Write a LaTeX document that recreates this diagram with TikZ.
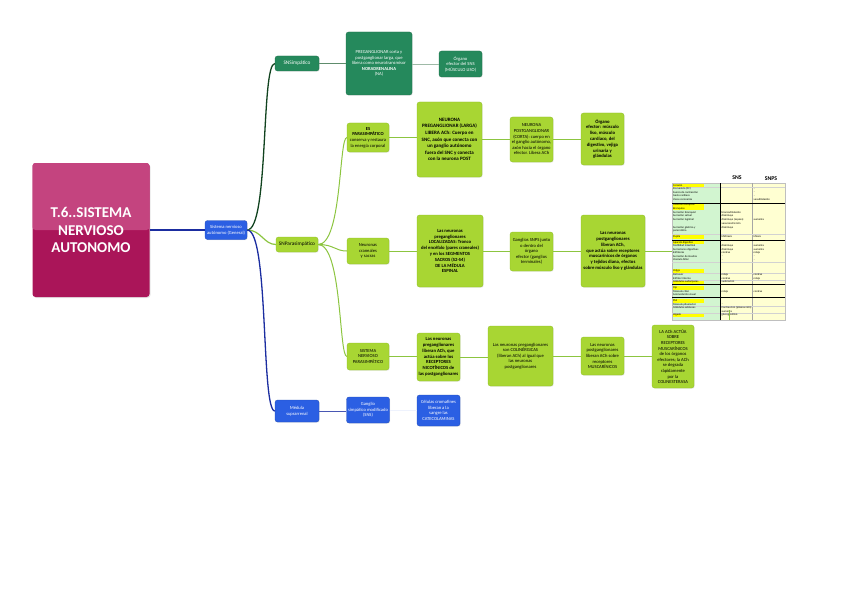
\documentclass[tikz,border=0pt]{standalone}
\usepackage{fontspec}
\setmainfont{Carlito}
\setsansfont{Carlito}
\usetikzlibrary{shadows}
\definecolor{pinkA}{HTML}{C4447F}
\definecolor{pinkB}{HTML}{AA1559}
\definecolor{blueN}{HTML}{2B5FE3}
\definecolor{blueL}{HTML}{1B2DA0}
\definecolor{dgreen}{HTML}{25895C}
\definecolor{dgreenL}{HTML}{11431F}
\definecolor{sgreenL}{HTML}{5E8C6C}
\definecolor{lgreen}{HTML}{A8D633}
\definecolor{lgreenD}{HTML}{8DBE22}
\definecolor{lgreenL}{HTML}{8CC540}
\definecolor{tgreen}{HTML}{D2F5D0}
\definecolor{tyellow}{HTML}{FFFFD2}
\definecolor{hyellow}{HTML}{FFFF00}
\begin{document}
\begin{tikzpicture}[x=1pt,y=-1pt,
  box/.style={rounded corners=2.5pt, align=center, inner sep=0pt,
    drop shadow={opacity=0.2,shadow xshift=0.7pt,shadow yshift=-0.7pt}},
  lg/.style={box, fill=lgreen, draw=lgreenD, line width=0.3pt, text=black},
  dg/.style={box, fill=dgreen, draw=dgreen!80!black, line width=0.3pt, text=white},
  bl/.style={box, fill=blueN, draw=blueN!80!black, line width=0.3pt, text=white},
  wh/.style 2 args={minimum width=#1pt, minimum height=#2pt},
  fa/.style={font=\fontsize{4.6}{5.6}\selectfont},
  fb/.style={font=\bfseries\fontsize{4.7}{5.8}\selectfont},
  fc/.style={font=\bfseries\fontsize{5}{6.6}\selectfont},
  fd/.style={font=\fontsize{5.3}{6.2}\selectfont},
  tt/.style={font=\fontsize{2.8}{3}\selectfont, inner sep=0pt, anchor=west},
  cdg/.style={draw=dgreenL, line width=1.3pt},
  clg/.style={draw=lgreenL, line width=1pt},
  cbl/.style={draw=blueL, line width=1.3pt},
]
\useasboundingbox (0,0) rectangle (848,599);

% main node
\node[wh={117}{134}, rounded corners=3pt, fill=pinkB, text=white, align=center,
  drop shadow={opacity=0.2,shadow xshift=1pt,shadow yshift=-1pt},
  path picture={\fill[pinkA] (path picture bounding box.north west) rectangle (path picture bounding box.east);},
  font=\bfseries\fontsize{15}{17.5}\selectfont] (main) at (91,230) {T.6..SISTEMA\\NERVIOSO\\AUTONOMO};

% level 1
\node[bl, wh={42}{19}, fa] (sist) at (226,230) {Sistema nervioso\\autónomo (General)};
\node[dg, wh={44}{15}, fd] (sns) at (297,63.5) {SNSimpático};
\node[lg, wh={42}{15}, fd] (snp) at (297,244.5) {SNParasimpático};
\node[bl, wh={44}{22}, fa] (med) at (297,411) {Médula\\suprarrenal};

\draw[cbl] (main.east) -- (main.east -| sist.west);
\draw[cdg] (sist.east) .. controls +(22,0) and +(-14,0) .. (sns.west);
\draw[clg, line width=1.2pt] (sist.east) .. controls +(14,0) and +(-12,0) .. (snp.west);
\draw[cbl] (sist.east) .. controls +(22,0) and +(-14,0) .. (med.west);

% SNS branch
\node[dg, wh={66}{63}, fa] (s1) at (379,63.5) {PREGANGLIONAR corta y\\postganglionar larga, que\\libera como neurotransmisor\\\textbf{NORADRENALINA}\\(NA)};
\node[dg, wh={43}{26}, fa] (s2) at (460.5,64) {Órgano\\efector del SNS\\(MÚSCULO LISO)};
\draw[draw=sgreenL, line width=0.9pt] (sns.east) -- (sns.east -| s1.west);
\draw[draw=sgreenL!60, line width=0.9pt] (s1.east |- s2.west) -- (s2.west);

% SNP row 1
\node[lg, wh={42}{29}, fa] (r1a) at (368,137.5) {\textbf{ES}\\\textbf{PARASIMPÁTICO}\\conserva y restaura\\la energía corporal};
\node[lg, wh={65}{75}, fc] (r1b) at (449.5,139.5) {NEURONA\\PREGANGLIONAR (LARGA)\\LIBERA ACh: Cuerpo en\\SNC, axón que conecta con\\un ganglio autónomo\\fuera del SNC y conecta\\con la neurona POST};
\node[lg, wh={43}{45}, fa] (r1c) at (531.5,139.5) {NEURONA\\POSTGANGLIONAR\\(CORTA): cuerpo en\\el ganglio autónomo,\\axón hacia el órgano\\efector. Libera ACh};
\node[lg, wh={43}{52}, fb] (r1d) at (602.5,139) {Órgano\\efector: músculo\\liso, músculo\\cardíaco, del\\digestivo, vejiga\\urinaria y\\glándulas};

% SNP row 2
\node[lg, wh={42}{26}, fa] (r2a) at (368,251) {Neuronas\\craneales\\y sacras};
\node[lg, wh={66}{72}, fb] (r2b) at (450,251) {Las neuronas\\preganglionares\\LOCALIZADAS: Tronco\\del encéfalo (pares craneales)\\y en los SEGMENTOS\\SACROS (S2-S4)\\DE LA MÉDULA\\ESPINAL};
\node[lg, wh={43}{39}, fa] (r2c) at (531.5,251.5) {Ganglios SNPS junto\\o dentro del\\órgano\\efector (ganglios\\terminales)};
\node[lg, wh={64}{72}, fb] (r2d) at (613,251) {Las neuronas\\postganglionares\\liberan ACh,\\que actúa sobre receptores\\muscarínicos de órganos\\y tejidos diana, efectos\\sobre músculo liso y glándulas};

% SNP row 3
\node[lg, wh={42}{27}, fa] (r3a) at (368,356.5) {SISTEMA\\NERVIOSO\\PARASIMPÁTICO};
\node[lg, wh={43}{48}, fb] (r3b) at (438.5,357) {Las neuronas\\preganglionares\\liberan ACh, que\\actúa sobre los\\RECEPTORES\\NICOTÍNICOS de\\las postganglionares};
\node[lg, wh={65}{60}, fa] (r3c) at (520.5,356) {Las neuronas preganglionares\\son COLINÉRGICAS\\(liberan ACh) al igual que\\las neuronas\\postganglionares};
\node[lg, wh={43}{38}, fa] (r3d) at (602.5,356) {Las neuronas\\postganglionares\\liberan ACh sobre\\receptores\\MUSCARÍNICOS};
\node[lg, wh={42}{63}, fa] (r3e) at (673,356.5) {LA ACh ACTÚA\\SOBRE\\RECEPTORES\\MUSCARÍNICOS\\de los órganos\\efectores; la ACh\\se degrada\\rápidamente\\por la\\COLINESTERASA};

\draw[clg] (snp.east) .. controls +(24,0) and +(-8,0) .. (r1a.west);
\draw[clg] (snp.east) .. controls +(16,0) and +(-12,0) .. (r2a.west);
\draw[clg] (snp.east) .. controls +(24,0) and +(-8,0) .. (r3a.west);
\foreach \a/\b in {r1a/r1b, r1b/r1c, r1c/r1d, r2a/r2b, r2b/r2c, r2c/r2d, r3a/r3b, r3b/r3c, r3c/r3d, r3d/r3e}
  \draw[draw=lgreenL, line width=0.8pt] (\a.east) -- (\a.east -| \b.west);

% blue branch
\node[bl, wh={43}{26}, fa] (m1) at (368,410) {Ganglio\\simpático modificado\\(SNS)};
\node[bl, wh={43}{31}, fa] (m2) at (438.5,410.5) {Células cromafines\\liberan a la\\sangre las\\CATECOLAMINAS};
\draw[draw=blueL!80, line width=1pt] (med.east) -- (med.east -| m1.west);
\draw[draw=blueN!8, line width=0.8pt] (m1.east) -- (m1.east -| m2.west);

% table
\node[inner sep=0pt, minimum width=113pt, minimum height=137pt] (tbl) at (728.5,251.5) {};
\draw[draw=lgreenL, line width=0.8pt] (r2d.east) -- (r2d.east -| tbl.west);
\fill[tgreen] (672,183) rectangle (720,320);
\fill[tyellow] (720,183) rectangle (785,320);
\foreach \y in {185.5,205,208.5,237,242.5,271,282,288,301,315}
  \fill[hyellow] (672,\y-1.6) rectangle (704,\y+1.6);
\draw[gray!50, line width=0.3pt] (672,183) rectangle (785,320);
\draw[gray!70, line width=0.3pt] (752,183) -- (752,320);
\foreach \y in {187.5,233.8,262.5,273.3,280.3,306.3,313.3}
  \draw[gray!35, line width=0.2pt] (672,\y) -- (785,\y);
\draw[black, line width=0.8pt] (720,183) -- (720,320);
\foreach \y in {203,240,284.5,297.5}
  \draw[black, line width=0.7pt] (672,\y) -- (785,\y);
\node[font=\bfseries\fontsize{5.8}{6}\selectfont] (hsns) at (737,178) {SNS};
\node[font=\bfseries\fontsize{5.8}{6}\selectfont] (hsnps) at (771,179) {SNPS};
\foreach \y/\t in {185.5/Corazón, 189/Frecuencia (FC), 192.5/Fuerza de contracción, 196/Gasto cardíaco, 199.5/Vasos coronarios,
  205/Músculo bronquial, 208.5/Bronquios, 212.5/Secreción bronquial, 216/Secreción salival, 219.5/Secreción lagrimal,
  227.5/Secreción gástrica y, 231/pancreática, 237/Pupila,
  242.5/Aparato digestivo, 246/Motilidad intestinal, 249.5/Secreciones digestivas, 253/Esfínteres, 256.5/Secreción de insulina, 260/Vesícula biliar,
  271/Vejiga, 275/Detrusor, 278.5/Esfínter interno, 282/Glándulas sudoríparas,
  288/Ojo, 291.5/Músculo ciliar, 295/Acomodación visual,
  301/Piel, 304.5/Músculo piloerector, 308/Glándulas sebáceas, 315/Hígado}
  \node[tt] at (673,\y) {\t};
\foreach \y/\t in {212.5/broncodilatación, 216/disminuye, 219.5/disminuye (espesa), 224/vasoconstricción, 227.5/disminuye,
  237/Midriasis, 246/disminuye, 249.5/disminuye, 253/contrae, 256.5/-, 260/-,
  275/relaja, 278.5/contrae, 282/sudoración, 291.5/relaja,
  304.5/-, 308/Contracción (piloerección), 311.5/aumenta, 315/glucogenólisis}
  \node[tt] at (721.5,\y) {\t};
\foreach \y/\t in {189/-, 192.5/-, 196/-, 199.5/vasodilatación, 219.5/aumenta, 237/Miosis,
  246/aumenta, 249.5/aumenta, 253/relaja, 256.5/-, 260/-, 275/contrae, 278.5/relaja, 291.5/contrae}
  \node[tt] at (753.5,\y) {\t};
\draw[draw=lgreenL, line width=1pt] (729.5,310) -- (729.5,320);
\end{tikzpicture}
\end{document}
